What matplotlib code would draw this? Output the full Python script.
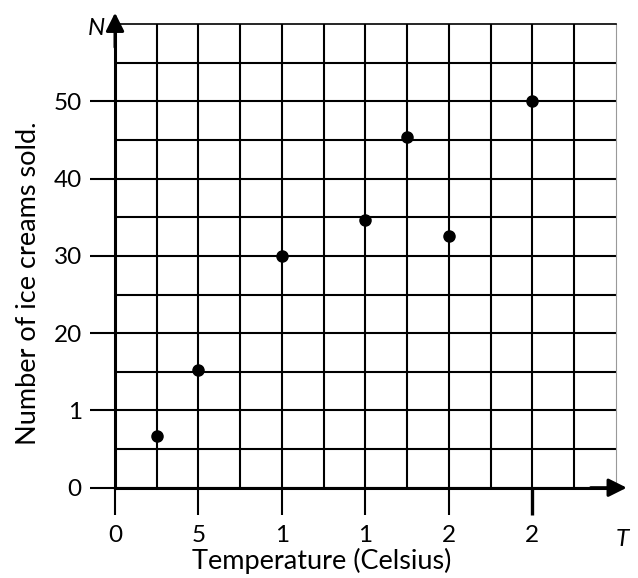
import matplotlib
matplotlib.use('Agg')
import matplotlib.pyplot as plt
import numpy as np

# --- data ---
temps = [2.5, 5, 10, 15, 17.5, 20, 25]
sold = [6.7, 15.2, 30, 34.7, 45.4, 32.6, 50]

x_ticks = [0, 5, 10, 15, 20, 25]
x_tick_labels = ['0', '5', '1', '1', '2', '2']
y_ticks = [0, 10, 20, 30, 40, 50]
y_tick_labels = ['0', '1', '20', '30', '40', '50']

FONT = ['Lato', 'DejaVu Sans']
plt.rcParams['font.family'] = FONT
FS = 17.5        # tick labels
FS_LABEL = 19.5  # axis titles

DPI = 100
fig = plt.figure(figsize=(6.38, 5.78), dpi=DPI)
ax = fig.add_axes([0.1803, 0.1562, 0.7848, 0.8022])

ax.set_xlim(0, 30)
ax.set_ylim(0, 60)

ax.set_xticks(x_ticks)
ax.set_xticklabels(x_tick_labels)
ax.set_yticks(y_ticks)
ax.set_yticklabels(y_tick_labels)
ax.set_xticks(np.arange(2.5, 30, 2.5), minor=True)
ax.set_yticks(np.arange(5, 60, 5), minor=True)

ax.grid(which='both', color='black', linewidth=1.5)
ax.set_axisbelow(True)

ax.tick_params(which='major', length=18, width=1.5, direction='out',
               labelsize=FS, colors='black')
ax.tick_params(axis='x', which='major', length=19.5, pad=7)
ax.tick_params(axis='y', which='major', pad=6)
ax.tick_params(which='minor', length=0)
# the last x tick is drawn a bit heavier in the original
ax.xaxis.get_major_ticks()[-1].tick1line.set_markeredgewidth(2.4)

for side in ['left', 'bottom']:
    ax.spines[side].set_linewidth(2.2)
    ax.spines[side].set_color('black')
ax.spines['top'].set_linewidth(1.2)
ax.spines['top'].set_color('black')
ax.spines['right'].set_linewidth(0.8)
ax.spines['right'].set_color('#999999')

# axis arrows
arrow = dict(arrowstyle='-|>,head_length=1.1,head_width=0.55', color='black',
             lw=2.2, shrinkA=0, shrinkB=0)
ax.annotate('', xy=(0, 1.0244), xytext=(0, 0.95), xycoords='axes fraction',
            textcoords='axes fraction', arrowprops=arrow, annotation_clip=False)
ax.annotate('', xy=(1.022, 0), xytext=(0.95, 0), xycoords='axes fraction',
            textcoords='axes fraction', arrowprops=arrow, annotation_clip=False)

ax.text(-0.038, 0.99, 'N', transform=ax.transAxes, fontsize=FS, style='italic',
        ha='center', va='center')
ax.text(1.0, -0.112, 'T', transform=ax.transAxes, fontsize=FS, style='italic',
        ha='left', va='center')

ax.plot(temps, sold, 'o', color='black', markersize=8, zorder=5, clip_on=False)

ax.set_xlabel('Temperature (Celsius)', fontsize=FS_LABEL)
ax.set_ylabel('Number of ice creams sold.', fontsize=FS_LABEL)
ax.xaxis.set_label_coords(0.413, -0.13)
ax.yaxis.set_label_coords(-0.148, 0.4415)

fig.savefig('out.png', dpi=DPI, facecolor='white')
